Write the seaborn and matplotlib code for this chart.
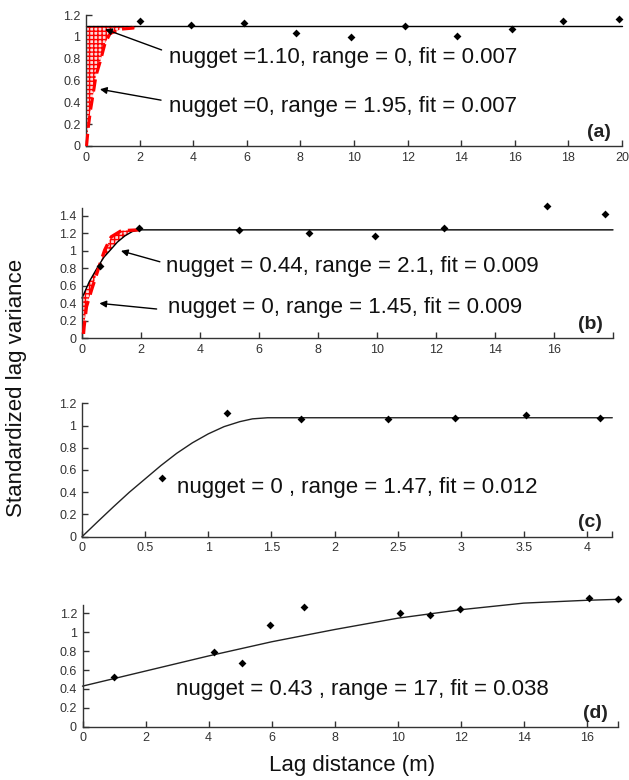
import numpy as np
import pandas as pd
import matplotlib
matplotlib.use('Agg')
import matplotlib.pyplot as plt
import seaborn as sns

sns.set_theme(style='ticks')
plt.rcParams['font.family'] = ['Liberation Sans', 'DejaVu Sans']

# ---- panel (a) ----
a_lag = [2.0, 3.9, 5.9, 7.85, 9.9, 11.9, 13.85, 15.9, 17.8, 19.9]
a_var = [1.145, 1.11, 1.125, 1.035, 0.995, 1.10, 1.01, 1.075, 1.145, 1.165]
a_fit_x = [0, 20]
a_fit_y = [1.10, 1.10]
a_red_x = [0.02, 0.09, 0.17, 0.27, 0.37, 0.55, 0.71, 0.9, 1.3, 1.76, 1.95]
a_red_y = [0, 0.18, 0.33, 0.48, 0.64, 0.79, 0.94, 1.03, 1.07, 1.08, 1.10]

# ---- panel (b) ----
b_lag = [0.6, 1.93, 5.32, 7.68, 9.93, 12.27, 15.77, 17.74]
b_var = [0.83, 1.26, 1.235, 1.20, 1.165, 1.265, 1.51, 1.42]
b_fit_x = [0, 0.25, 0.54, 0.75, 0.99, 1.2, 1.45, 1.7, 1.95, 18]
b_fit_y = [0.46, 0.65, 0.82, 0.93, 1.02, 1.10, 1.17, 1.22, 1.24, 1.24]
b_red_x = [0.05, 0.07, 0.15, 0.32, 0.54, 0.77, 0.99, 1.33, 1.95]
b_red_y = [0.05, 0.13, 0.36, 0.55, 0.78, 1.01, 1.16, 1.23, 1.24]

# ---- panel (c) ----
c_lag = [0.637, 1.148, 1.738, 2.42, 2.955, 3.52, 4.10]
c_var = [0.526, 1.117, 1.057, 1.057, 1.066, 1.096, 1.066]
c_fit_x = [0, 0.125, 0.25, 0.375, 0.5, 0.625, 0.75, 0.875, 1.0, 1.125, 1.25, 1.35, 1.47, 4.2]
c_fit_y = [0, 0.136, 0.27, 0.40, 0.52, 0.64, 0.75, 0.845, 0.925, 0.99, 1.035, 1.06, 1.07, 1.07]

# ---- panel (d) ----
d_lag = [1.0, 4.18, 5.07, 5.95, 7.03, 10.06, 11.03, 11.98, 16.07, 17.0]
d_var = [0.523, 0.795, 0.672, 1.077, 1.271, 1.208, 1.183, 1.247, 1.363, 1.349]
d_fit_x = [0, 2, 4, 6, 8, 10, 12, 14, 16, 17]
d_fit_y = [0.43, 0.59, 0.75, 0.90, 1.03, 1.15, 1.24, 1.31, 1.34, 1.35]

fig = plt.figure(figsize=(6.29, 7.8), dpi=100)
W, H = 629.0, 780.0


def make_ax(left, right, bottom, top):
    return fig.add_axes([left / W, 1 - bottom / H, (right - left) / W, (bottom - top) / H])


def style(ax, xlim, ylim, xticks, xlabels, yticks, ylabels, tag):
    ax.set_xlim(*xlim)
    ax.set_ylim(*ylim)
    ax.set_xticks(xticks)
    ax.set_xticklabels(xlabels)
    ax.set_yticks(yticks)
    ax.set_yticklabels(ylabels)
    sns.despine(ax=ax)
    for s in ['left', 'bottom']:
        ax.spines[s].set_color('#333333')
        ax.spines[s].set_linewidth(1.0)
    ax.tick_params(direction='in', length=4, width=1, color='#333333',
                   labelsize=9, labelcolor='#333333', pad=4)
    ax.set_xlabel('')
    ax.set_ylabel('')
    ax.text(0.98, 0.04, tag, transform=ax.transAxes, ha='right', va='bottom',
            fontsize=14, fontweight='bold', color='#222222')


def points(ax, x, y):
    sns.scatterplot(x=x, y=y, ax=ax, marker='D', s=16, color='black',
                    edgecolor='black', linewidth=0, clip_on=False, zorder=5)


def curve(ax, x, y, **kw):
    sns.lineplot(x=x, y=y, ax=ax, sort=False, estimator=None, clip_on=False, **kw)


def note(ax, x, y, s):
    ax.text(x, y, s, fontsize=16, color='#111111', va='baseline', ha='left')


def arrow(ax, tail, head):
    ax.annotate('', xy=head, xytext=tail,
                arrowprops=dict(arrowstyle='-|>', color='black', lw=1.0,
                                mutation_scale=10, shrinkA=0, shrinkB=0))


# (a)
ax = make_ax(86, 622, 146, 15)
ax.fill_betweenx(a_red_y, 0, a_red_x, facecolor='#fbd9d9', edgecolor='red',
                 hatch='++++', linewidth=0, zorder=1)
curve(ax, a_red_x, a_red_y, color='red', linestyle=(0, (4, 2)), linewidth=2.2, zorder=3)
curve(ax, a_fit_x, a_fit_y, color='black', linewidth=1.0, zorder=2)
points(ax, a_lag, a_var)
note(ax, 3.1, 0.764, 'nugget =1.10, range = 0, fit = 0.007')
note(ax, 3.1, 0.315, 'nugget =0, range = 1.95, fit = 0.007')
arrow(ax, (2.82, 0.88), (0.71, 1.07))
arrow(ax, (2.8, 0.42), (0.52, 0.52))
style(ax, (0, 20), (0, 1.2), list(range(0, 21, 2)), [str(v) for v in range(0, 21, 2)],
      [0, 0.2, 0.4, 0.6, 0.8, 1.0, 1.2], ['0', '0.2', '0.4', '0.6', '0.8', '1', '1.2'], '(a)')

# (b)
ax = make_ax(82, 613, 338.3, 208)
poly_x = list(b_red_x) + list(b_fit_x[:9][::-1])
poly_y = list(b_red_y) + list(b_fit_y[:9][::-1])
ax.fill(poly_x, poly_y, facecolor='#fbd9d9', edgecolor='red', hatch='++++',
        linewidth=0, zorder=1)
curve(ax, b_red_x, b_red_y, color='red', linestyle=(0, (4, 2)), linewidth=2.4, zorder=3)
curve(ax, b_fit_x, b_fit_y, color='black', linewidth=1.0, zorder=2)
points(ax, b_lag, b_var)
note(ax, 2.85, 0.76, 'nugget = 0.44, range = 2.1, fit = 0.009')
note(ax, 2.93, 0.286, 'nugget = 0, range = 1.45, fit = 0.009')
arrow(ax, (2.64, 0.875), (1.32, 1.0))
arrow(ax, (2.53, 0.335), (0.59, 0.40))
style(ax, (0, 18), (0, 1.49), list(range(0, 19, 2)),
      [str(v) for v in range(0, 17, 2)] + [''],
      [0, 0.2, 0.4, 0.6, 0.8, 1.0, 1.2, 1.4],
      ['0', '0.2', '0.4', '0.6', '0.8', '1', '1.2', '1.4'], '(b)')

# (c)
ax = make_ax(82, 612.3, 536.7, 403.3)
curve(ax, c_fit_x, c_fit_y, color='#222222', linewidth=1.0, zorder=2)
points(ax, c_lag, c_var)
note(ax, 0.75, 0.39, 'nugget = 0 , range = 1.47, fit = 0.012')
style(ax, (0, 4.2), (0, 1.2), [0, 0.5, 1, 1.5, 2, 2.5, 3, 3.5, 4, 4.2],
      ['0', '0.5', '1', '1.5', '2', '2.5', '3', '3.5', '4', ''],
      [0, 0.2, 0.4, 0.6, 0.8, 1.0, 1.2], ['0', '0.2', '0.4', '0.6', '0.8', '1', '1.2'], '(c)')

# (d)
ax = make_ax(82.5, 618.3, 726.7, 605)
curve(ax, d_fit_x, d_fit_y, color='#222222', linewidth=1.0, zorder=2)
points(ax, d_lag, d_var)
note(ax, 2.96, 0.336, 'nugget = 0.43 , range = 17, fit = 0.038')
style(ax, (0, 17), (0, 1.29), list(range(0, 17, 2)) + [17],
      [str(v) for v in range(0, 17, 2)] + [''],
      [0, 0.2, 0.4, 0.6, 0.8, 1.0, 1.2], ['0', '0.2', '0.4', '0.6', '0.8', '1', '1.2'], '(d)')

fig.text(17 / W, 1 - 388 / H, 'Standardized lag variance', rotation=90,
         ha='center', va='center', fontsize=16, color='#111111')
fig.text(352 / W, 1 - 766 / H, 'Lag distance (m)', ha='center', va='center',
         fontsize=16, color='#111111')

fig.savefig('out.png', dpi=100)
